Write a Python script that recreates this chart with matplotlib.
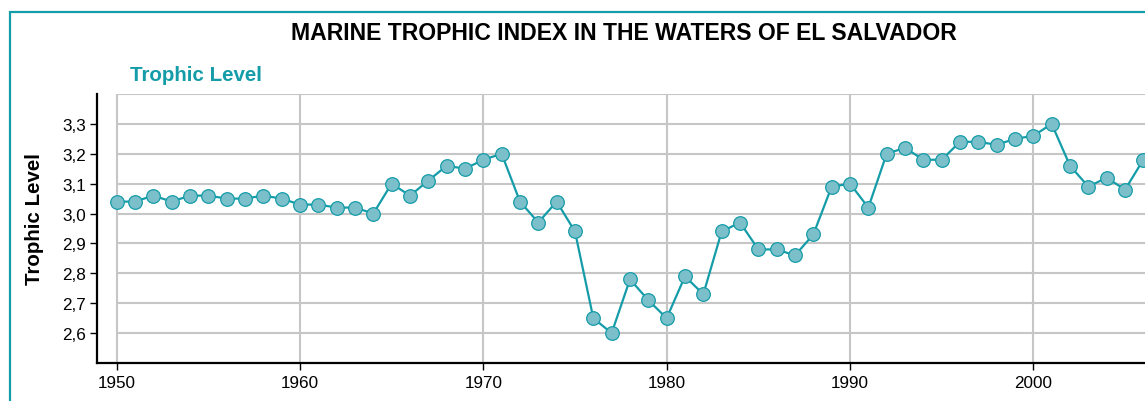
import matplotlib
matplotlib.use("Agg")
import matplotlib.pyplot as plt
from matplotlib.patches import Rectangle

plt.rcParams['font.family'] = ['Liberation Sans', 'DejaVu Sans']

# Marine trophic index, El Salvador
years = list(range(1950, 2007))
trophic = [3.04, 3.04, 3.06, 3.04, 3.06, 3.06, 3.05, 3.05, 3.06, 3.05,
           3.03, 3.03, 3.02, 3.02, 3.00, 3.10, 3.06, 3.11, 3.16, 3.15,
           3.18, 3.20, 3.04, 2.97, 3.04, 2.94, 2.65, 2.60, 2.78, 2.71,
           2.65, 2.79, 2.73, 2.94, 2.97, 2.88, 2.88, 2.86, 2.93, 3.09,
           3.10, 3.02, 3.20, 3.22, 3.18, 3.18, 3.24, 3.24, 3.23, 3.25,
           3.26, 3.30, 3.16, 3.09, 3.12, 3.08, 3.18]
ytick_vals = [2.6, 2.7, 2.8, 2.9, 3.0, 3.1, 3.2, 3.3]
ytick_labels = ['2,6', '2,7', '2,8', '2,9', '3,0', '3,1', '3,2', '3,3']
xtick_vals = [1950, 1960, 1970, 1980, 1990, 2000]

teal = '#159ca9'
grid_col = '#c6c6c6'

fig = plt.figure(figsize=(11.45, 4.02), dpi=100)
ax = fig.add_axes([97 / 1145, 1 - 364 / 402, 1 - 97 / 1145, 269 / 402])

x_left, x_right = 1948.93, 2006.09
ax.set_xlim(x_left, x_right)
ax.set_ylim(2.5, 3.4)

# grid box starts at 1950, not at the spine
ax.hlines(ytick_vals + [3.4], 1950, x_right + 1, color=grid_col, lw=1.5, zorder=1)
ax.vlines(xtick_vals, 2.5, 3.4, color=grid_col, lw=1.5, zorder=1)

ax.plot(years, trophic, color=teal, lw=1.6, marker='o', ms=9.8,
        mfc='#7abfc9', mec=teal, mew=0.9, zorder=3)

for s in ['top', 'right']:
    ax.spines[s].set_visible(False)
for s in ['left', 'bottom']:
    ax.spines[s].set_linewidth(1.6)
    ax.spines[s].set_color('black')

ax.set_yticks(ytick_vals)
ax.set_yticklabels(ytick_labels)
ax.set_xticks(xtick_vals)
ax.set_xticklabels([str(v) for v in xtick_vals])
ax.tick_params(axis='y', length=5, width=1, pad=3, labelsize=12.3)
ax.tick_params(axis='x', length=5, width=1, pad=3.5, labelsize=12.3)

fig.text(0.5446, 1 - 40 / 402, 'MARINE TROPHIC INDEX IN THE WATERS OF EL SALVADOR',
         ha='center', va='baseline', fontsize=16.55, fontweight='bold')
fig.text(130 / 1145, 1 - 81 / 402, 'Trophic Level', ha='left', va='baseline',
         fontsize=14.8, fontweight='bold', color=teal)
fig.text(35 / 1145, 1 - 219 / 402, 'Trophic Level', ha='center', va='center',
         rotation=90, fontsize=14.8, fontweight='bold')

# frame around the chart (cropped on right and bottom)
fig.patches.append(Rectangle((10 / 1145, -0.2), 1.2, 1 - 13 / 402 + 0.2,
                             transform=fig.transFigure, fill=False,
                             edgecolor=teal, lw=1.6, zorder=0))

fig.savefig('out.png', dpi=100)
